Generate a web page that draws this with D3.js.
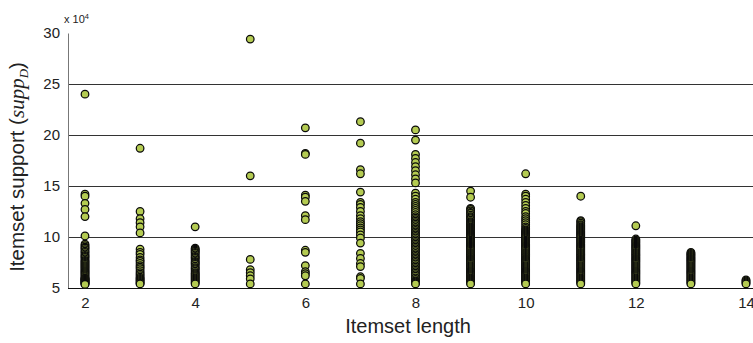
<!DOCTYPE html>
<html><head><meta charset="utf-8">
<script src="https://cdn.jsdelivr.net/npm/d3@7/dist/d3.min.js"></script>
<style>body{margin:0;background:#fff}svg{display:block}</style>
</head><body><svg id="c" width="753" height="343"></svg>
<script>
// Itemset lengths (x categories)
const lengths = [2,3,4,5,6,7,8,9,10,11,12,13,14];
// Itemset support values, in units of 10^4
const supp2 = [24.0,14.2,14.0,13.3,12.7,12.0,10.1,9.3,9.15,9.0,8.9,8.75,8.6,8.5,8.35,8.2,8.1,8.0,7.85,7.7,7.6,7.5,7.4,7.3,7.2,7.1,7.0,6.9,6.8,6.7,6.6,6.5,6.4,6.3,6.2,6.1,6.0,5.95,5.9,5.85,5.8,5.75,5.7,5.65,5.6,5.55,5.5,5.45,5.4,5.35];
const supp3 = [18.7,12.5,11.8,11.4,11.0,10.4,8.8,8.5,8.3,8.0,7.75,7.6,7.4,7.2,7.05,6.9,6.7,6.5,6.35,6.2,6.05,5.95,5.85,5.75,5.65,5.55,5.45,5.4];
const supp4 = [11.0,8.9,8.8,8.7,8.6,8.5,8.4,8.25,8.1,8.0,7.9,7.75,7.6,7.5,7.4,7.3,7.15,7.0,6.9,6.8,6.65,6.5,6.4,6.3,6.2,6.1,6.0,5.9,5.8,5.7,5.6,5.5,5.4];
const supp5 = [29.4,16.0,7.8,6.8,6.5,6.2,5.9,5.4];
const supp6 = [20.7,18.2,18.1,14.1,13.9,13.5,12.1,11.7,8.7,8.5,7.2,6.6,6.4,6.2,5.4];
const supp7 = [21.3,19.2,16.6,16.2,14.4,13.4,13.2,12.9,12.5,12.1,11.8,11.5,11.3,11.1,10.9,10.7,10.5,10.2,9.9,9.4,8.4,7.9,7.4,7.1,6.1,5.95,5.4];
const supp8 = [20.5,19.5,18.1,17.7,17.3,16.9,16.5,16.1,15.7,15.3,14.3,14.0,13.7,13.4,13.2,13.0,12.8,12.6,12.4,12.2,12.0,11.85,11.7,11.55,11.4,11.25,11.1,10.95,10.8,10.65,10.5,10.35,10.2,10.05,9.9,9.75,9.6,9.45,9.3,9.15,9.0,8.85,8.7,8.55,8.4,8.25,8.1,7.95,7.8,7.65,7.5,7.35,7.2,7.05,6.9,6.75,6.6,6.45,6.3,6.15,6.0,5.85,5.7,5.6,5.5,5.4];
const supp9 = [14.5,13.9,12.8,12.7,12.55,12.4,12.3,12.15,12.0,11.9,11.8,11.65,11.5,11.4,11.3,11.2,11.1,11.0,10.9,10.8,10.7,10.6,10.5,10.4,10.3,10.2,10.1,10.0,9.9,9.8,9.7,9.6,9.5,9.4,9.3,9.2,9.1,9.0,8.9,8.8,8.7,8.6,8.5,8.4,8.3,8.2,8.1,8.0,7.9,7.8,7.7,7.6,7.5,7.4,7.3,7.2,7.1,7.0,6.9,6.8,6.7,6.6,6.5,6.4,6.3,6.2,6.1,6.0,5.9,5.8,5.7,5.6,5.5,5.4];
const supp10 = [16.2,14.2,14.0,13.7,13.4,13.1,12.8,12.5,12.3,12.0,11.8,11.6,11.4,11.2,11.0,10.85,10.7,10.6,10.5,10.4,10.3,10.2,10.1,10.0,9.9,9.8,9.7,9.6,9.5,9.4,9.3,9.2,9.1,9.0,8.9,8.8,8.7,8.6,8.5,8.4,8.3,8.2,8.1,8.0,7.9,7.8,7.7,7.6,7.5,7.4,7.3,7.2,7.1,7.0,6.9,6.8,6.7,6.6,6.5,6.4,6.3,6.2,6.1,6.0,5.9,5.8,5.7,5.6,5.5,5.4];
const supp11 = [14.0,11.6,11.5,11.35,11.2,11.1,11.0,10.9,10.8,10.7,10.6,10.5,10.4,10.3,10.2,10.1,10.0,9.9,9.8,9.7,9.6,9.5,9.4,9.3,9.2,9.1,9.0,8.9,8.8,8.7,8.6,8.5,8.4,8.3,8.2,8.1,8.0,7.9,7.8,7.7,7.6,7.5,7.4,7.3,7.2,7.1,7.0,6.9,6.8,6.7,6.6,6.5,6.4,6.3,6.2,6.1,6.0,5.9,5.8,5.7,5.6,5.5,5.4];
const supp12 = [11.1,9.8,9.7,9.6,9.5,9.4,9.3,9.2,9.1,9.0,8.9,8.8,8.7,8.6,8.5,8.4,8.3,8.2,8.1,8.0,7.9,7.8,7.7,7.6,7.5,7.4,7.3,7.2,7.1,7.0,6.9,6.8,6.7,6.6,6.5,6.4,6.3,6.2,6.1,6.0,5.9,5.8,5.7,5.6,5.5,5.4];
const supp13 = [8.5,8.4,8.3,8.2,8.1,8.0,7.9,7.8,7.7,7.6,7.5,7.4,7.3,7.2,7.1,7.0,6.9,6.8,6.7,6.6,6.5,6.4,6.3,6.2,6.1,6.0,5.9,5.8,5.7,5.6,5.5,5.4];
const supp14 = [5.8,5.7,5.6,5.5,5.4];
const supportByLength = [supp2,supp3,supp4,supp5,supp6,supp7,supp8,supp9,supp10,supp11,supp12,supp13,supp14];
const xTicks = [2,4,6,8,10,12,14];
const yTicks = [5,10,15,20,25,30];
const gridTicks = [10,15,20,25];

const W = 753, H = 343;
const svg = d3.select('#c');
const x = d3.scaleLinear().domain([2,14]).range([85,746]);
const y = d3.scaleLinear().domain([5,30]).range([288,33]);
const left = 68;
const font = "'Liberation Sans', Arial, Helvetica, sans-serif";
const serif = "'Liberation Serif', 'DejaVu Serif', serif";

// grid lines
svg.append('g').attr('transform',`translate(${left},0)`)
  .call(d3.axisLeft(y).tickValues(gridTicks).tickSize(-(W-left)).tickFormat(''))
  .call(g=>g.select('.domain').remove())
  .call(g=>g.selectAll('line').attr('stroke','#333').attr('stroke-width',1));

// y axis
svg.append('g').attr('transform',`translate(${left},0)`)
  .call(d3.axisLeft(y).tickValues(yTicks).tickSize(0).tickSizeOuter(0).tickPadding(8))
  .call(g=>g.select('.domain').attr('stroke','#777').attr('stroke-width',1))
  .call(g=>g.selectAll('text').attr('font-family',font).attr('font-size',15).attr('fill','#222'));

// x axis
svg.append('g').attr('transform','translate(0,288)')
  .call(d3.axisBottom(x).tickValues(xTicks).tickSize(0).tickSizeOuter(0).tickPadding(9))
  .call(g=>g.select('.domain').remove())
  .call(g=>g.selectAll('text').attr('font-family',font).attr('font-size',15).attr('fill','#222'));
svg.append('line').attr('x1',left).attr('x2',W).attr('y1',288.5).attr('y2',288.5)
  .attr('stroke','#111').attr('stroke-width',1);

// exponent label
const ex = svg.append('text').attr('x',64).attr('y',23).attr('font-family',font).attr('font-size',11).attr('fill','#222');
ex.append('tspan').text('x 10');
ex.append('tspan').attr('font-size',7.5).attr('dy',-4).text('4');

// points
const pts = [];
lengths.forEach((L,i)=>supportByLength[i].forEach(v=>pts.push({L,v})));
svg.append('g').selectAll('circle').data(pts).join('circle')
  .attr('cx',d=>x(d.L)).attr('cy',d=>y(d.v)).attr('r',3.8)
  .attr('fill','#b4cb52').attr('stroke','#0a0a0a').attr('stroke-width',1.25);

// axis titles
svg.append('text').attr('x',408).attr('y',333).attr('text-anchor','middle')
  .attr('font-family',font).attr('font-size',20).attr('fill','#222').text('Itemset length');
const yt = svg.append('text').attr('transform','translate(24,167) rotate(-90)').attr('text-anchor','middle')
  .attr('font-family',font).attr('font-size',20.5).attr('fill','#222');
yt.append('tspan').text('Itemset support (');
yt.append('tspan').attr('font-family',serif).attr('font-style','italic').attr('font-size',21).text('supp');
yt.append('tspan').attr('font-family',serif).attr('font-style','italic').attr('font-size',13).attr('dy',4).text('D');
yt.append('tspan').attr('dy',-4).text(')');
</script>
</body></html>
